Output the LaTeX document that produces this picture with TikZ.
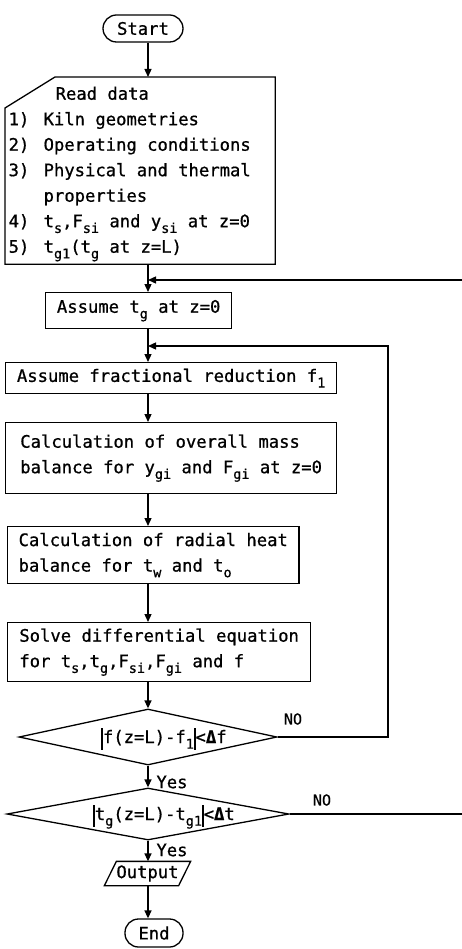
\documentclass[tikz,border=0pt]{standalone}
\usepackage{fontspec}
\setmonofont[FakeBold=0.8]{DejaVu Sans Mono}
\usetikzlibrary{shapes.geometric,arrows.meta}
% lowered subscript in the typewriter face
\newcommand\sbs[1]{\raisebox{-0.33em}{\fontsize{13.5}{13.5}\selectfont #1}}
% tall bar for absolute values
\newcommand\vbar{\rule[-0.4em]{1.6pt}{1.3em}}
% item number column in the input card
\newcommand\itm[1]{\makebox[35pt][l]{#1}}
\newcommand\dlt{{\bfseries Δ}}
\tikzset{
  txt/.style={font=\ttfamily\fontsize{17.2}{25.5}\selectfont},
  box/.style={txt, draw, anchor=north west, align=left, inner xsep=11pt, inner ysep=0pt},
  term/.style={txt, draw, rounded corners=13.5pt, inner sep=0pt},
  dec/.style={txt, draw, diamond, inner sep=0pt, text height=12pt, text depth=0pt},
  lbl/.style={txt, inner sep=0pt},
  nolbl/.style={font=\ttfamily\fontsize{15}{15}\selectfont, inner sep=0pt},
  flow/.style={-{Triangle[length=8pt,width=7pt]}},
}
\begin{document}
\begin{tikzpicture}[x=1pt,y=-1pt,line width=1.3pt]
\useasboundingbox (0,0) rectangle (462,949);
\fill[white] (0,0) rectangle (462,949);
\clip (0,0) rectangle (462,949);

\coordinate (ax) at (148,0);

% terminals
\node[term, minimum width=80pt, minimum height=27pt] (start) at (143,28.5) {Start};
\node[term, minimum width=58pt, minimum height=28pt] (end) at (154,933) {End};

% input card
\node[anchor=north west, minimum width=269pt, minimum height=186pt, inner sep=0pt] (card) at (5,77) {};
\draw (card.north east) -- (card.south east) -- (card.south west)
  -- ([yshift=-31pt]card.north west) -- ([xshift=50pt]card.north west) -- cycle;
\node[txt, anchor=north west, align=left, inner sep=0pt] (cardtext) at (8,86) {%
  \hspace*{47pt}Read data\\
  \itm{1)}Kiln geometries\\
  \itm{2)}Operating conditions\\
  \itm{3)}Physical and thermal\\
  \itm{}properties\\
  \itm{4)}t\sbs{s},F\sbs{si} and y\sbs{si} at z=0\\
  \itm{5)}t\sbs{g1}(t\sbs{g} at z=L)};

% process boxes
\node[box, minimum width=186pt, minimum height=36pt] (asstg) at (45,292)
  {Assume t\sbs{g} at z=0};
\node[box, minimum width=331pt, minimum height=31pt] (frac) at (5,362)
  {Assume fractional reduction f\sbs{1}};
\node[box, minimum width=331pt, minimum height=71pt] (mass) at (5,422)
  {Calculation of overall mass\\balance for y\sbs{gi} and F\sbs{gi} at z=0};
\node[box, minimum width=287pt, minimum height=57pt] (radial) at (7,526)
  {Calculation of radial heat\\balance for t\sbs{w} and t\sbs{o}};
\node[box, minimum width=303pt, minimum height=59pt] (solve) at (7,622)
  {Solve differential equation\\for t\sbs{s},t\sbs{g},F\sbs{si},F\sbs{gi} and f};

% decisions
\node[dec, minimum width=258pt, minimum height=56pt, aspect=4.6] (d1) at (148,737)
  {\hspace*{32pt}\vbar f(z=L)-f\sbs{1}\vbar<\dlt f};
\node[dec, minimum width=282pt, minimum height=52pt, aspect=5.4] (d2) at (148,814)
  {\hspace*{32pt}\vbar t\sbs{g}(z=L)-t\sbs{g1}\vbar<\dlt t};

% output
\node[txt, minimum width=85pt, minimum height=23pt, inner sep=0pt] (out) at (147.5,873.5) {Output};
\draw (out.north east) -- ([xshift=-12pt]out.south east) -- (out.south west)
  -- ([xshift=12pt]out.north west) -- cycle;

% branch labels
\node[nolbl] (no1) at (293,719) {NO};
\node[nolbl] (no2) at (322,800) {NO};
\node[lbl] (yes1) at (172,782) {Yes};
\node[lbl] (yes2) at (172,850) {Yes};

% main flow
\draw[flow] (start.south -| ax) -- (card.north -| ax);
\draw[flow] (card.south -| ax) -- (asstg.north -| ax);
\draw[flow] (asstg.south -| ax) -- (frac.north -| ax);
\draw[flow] (frac.south -| ax) -- (mass.north -| ax);
\draw[flow] (mass.south -| ax) -- (radial.north -| ax);
\draw[flow] (radial.south -| ax) -- (solve.north -| ax);
\draw[flow] (solve.south -| ax) -- (d1.north);
\draw[flow] (d1.south) -- (d2.north);
\draw[flow] (d2.south) -- (out.north -| ax);
\draw[flow] (out.south -| ax) -- (end.north -| ax);

% feedback loops
\coordinate (j1) at (148,346);
\coordinate (r1) at (388,346);
\coordinate (j2) at (148,280);
\coordinate (r2) at (470,280);
\draw[flow] (d1.east) -| (r1) -- (j1);
\draw[flow] (d2.east) -| (r2) -- (j2);
\end{tikzpicture}
\end{document}
